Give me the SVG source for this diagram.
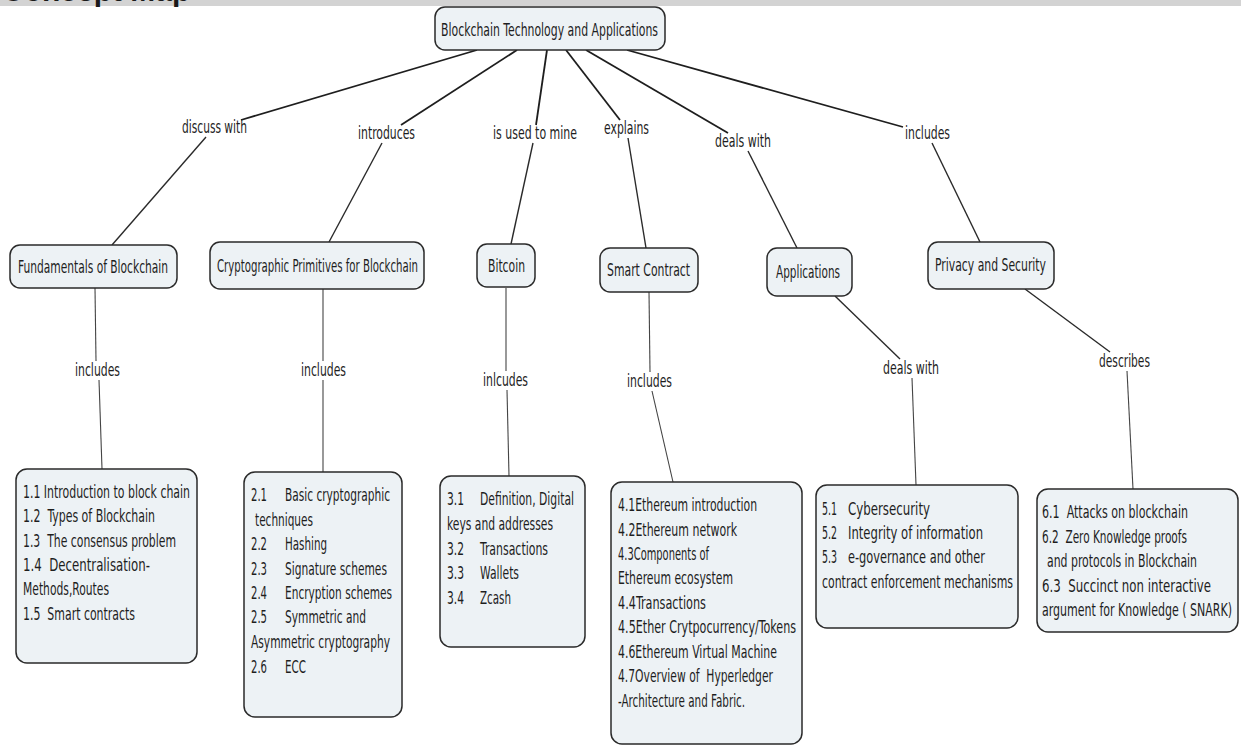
<svg xmlns="http://www.w3.org/2000/svg" width="1241" height="747" viewBox="0 0 1241 747">
<style>
.box{fill:#edf2f5;stroke:#2a2a2a;stroke-width:1.5}
.t{font-family:"DejaVu Sans Condensed","DejaVu Sans",sans-serif;font-size:18px;fill:#1e1e1e;white-space:pre}
.c1{stroke:#1e1e1e;stroke-width:1.8;fill:none}
.c2{stroke:#2a2a2a;stroke-width:1.4;fill:none}
.c3{stroke:#444;stroke-width:1.1;fill:none}
</style>
<rect x="0" y="0" width="1241" height="6" fill="#d3d3d3"/>
<text x="2" y="1" font-family="'Liberation Sans',Arial,sans-serif" font-weight="bold" font-size="30" fill="#1a1a1a">Concept Map</text>

<g id="connectors">
<line class="c1" x1="477" y1="50" x2="241" y2="120"/>
<line class="c1" x1="517" y1="50" x2="401" y2="125"/>
<line class="c1" x1="547" y1="50" x2="536" y2="125"/>
<line class="c1" x1="566" y1="50" x2="620" y2="120"/>
<line class="c1" x1="586" y1="50" x2="728" y2="133"/>
<line class="c1" x1="627" y1="50" x2="903" y2="127"/>
<line class="c2" x1="206" y1="137" x2="112" y2="245"/>
<line class="c2" x1="382" y1="143" x2="329" y2="242"/>
<line class="c2" x1="533" y1="143" x2="511" y2="244"/>
<line class="c2" x1="628" y1="138" x2="646" y2="248"/>
<line class="c2" x1="748" y1="151" x2="797" y2="248"/>
<line class="c2" x1="932" y1="143" x2="980" y2="242"/>
<line class="c3" x1="95" y1="288" x2="96" y2="361"/>
<line class="c3" x1="99" y1="380" x2="102" y2="469"/>
<line class="c3" x1="323" y1="289" x2="323" y2="361"/>
<line class="c3" x1="323" y1="380" x2="323" y2="472"/>
<line class="c3" x1="506" y1="288" x2="506" y2="371"/>
<line class="c3" x1="507" y1="390" x2="509" y2="476"/>
<line class="c3" x1="649" y1="292" x2="650" y2="372"/>
<line class="c3" x1="652" y1="391" x2="673" y2="482"/>
<line class="c2" x1="835" y1="296" x2="900" y2="359"/>
<line class="c3" x1="912" y1="378" x2="916" y2="485"/>
<line class="c2" x1="1025" y1="289" x2="1110" y2="352"/>
<line class="c3" x1="1127" y1="371" x2="1133" y2="489"/>
</g>

<g id="link-labels">
<text class="t" transform="matrix(0.67 0 0 1 182 133)" textLength="97" lengthAdjust="spacingAndGlyphs">discuss with</text>
<text class="t" transform="matrix(0.67 0 0 1 358 139)" textLength="85.1" lengthAdjust="spacingAndGlyphs">introduces</text>
<text class="t" transform="matrix(0.67 0 0 1 493 139)" textLength="125.4" lengthAdjust="spacingAndGlyphs">is used to mine</text>
<text class="t" transform="matrix(0.67 0 0 1 604 134)" textLength="67.2" lengthAdjust="spacingAndGlyphs">explains</text>
<text class="t" transform="matrix(0.67 0 0 1 715 147)" textLength="83.6" lengthAdjust="spacingAndGlyphs">deals with</text>
<text class="t" transform="matrix(0.67 0 0 1 905 139)" textLength="67.2" lengthAdjust="spacingAndGlyphs">includes</text>
<text class="t" transform="matrix(0.67 0 0 1 75 376)" textLength="67.2" lengthAdjust="spacingAndGlyphs">includes</text>
<text class="t" transform="matrix(0.67 0 0 1 301 376)" textLength="67.2" lengthAdjust="spacingAndGlyphs">includes</text>
<text class="t" transform="matrix(0.67 0 0 1 483 386)" textLength="67.2" lengthAdjust="spacingAndGlyphs">inlcudes</text>
<text class="t" transform="matrix(0.67 0 0 1 627 387)" textLength="67.2" lengthAdjust="spacingAndGlyphs">includes</text>
<text class="t" transform="matrix(0.67 0 0 1 883 374)" textLength="83.6" lengthAdjust="spacingAndGlyphs">deals with</text>
<text class="t" transform="matrix(0.67 0 0 1 1099 367)" textLength="76.1" lengthAdjust="spacingAndGlyphs">describes</text>
</g>

<g id="root">
<rect class="box" x="435" y="7" width="230" height="43" rx="10"/>
<text class="t" transform="matrix(0.67 0 0 1 441 36)" textLength="323.9" lengthAdjust="spacingAndGlyphs">Blockchain Technology and Applications</text>
</g>
<g id="fundamentals">
<rect class="box" x="10" y="245" width="167" height="43" rx="10"/>
<text class="t" transform="matrix(0.67 0 0 1 18 273)" textLength="223.9" lengthAdjust="spacingAndGlyphs">Fundamentals of Blockchain</text>
</g>
<g id="crypto">
<rect class="box" x="210" y="242" width="214" height="47" rx="10"/>
<text class="t" transform="matrix(0.67 0 0 1 217 272)" textLength="300" lengthAdjust="spacingAndGlyphs">Cryptographic Primitives for Blockchain</text>
</g>
<g id="bitcoin">
<rect class="box" x="477" y="244" width="58" height="43" rx="10"/>
<text class="t" transform="matrix(0.67 0 0 1 488 272)" textLength="55.2" lengthAdjust="spacingAndGlyphs">Bitcoin</text>
</g>
<g id="smart-contract">
<rect class="box" x="600" y="248" width="98" height="44" rx="10"/>
<text class="t" transform="matrix(0.67 0 0 1 607 276)" textLength="123.9" lengthAdjust="spacingAndGlyphs">Smart Contract</text>
</g>
<g id="applications">
<rect class="box" x="767" y="248" width="85" height="48" rx="10"/>
<text class="t" transform="matrix(0.67 0 0 1 776 278)" textLength="95.5" lengthAdjust="spacingAndGlyphs">Applications</text>
</g>
<g id="privacy">
<rect class="box" x="928" y="242" width="126" height="47" rx="10"/>
<text class="t" transform="matrix(0.67 0 0 1 935 271)" textLength="165.7" lengthAdjust="spacingAndGlyphs">Privacy and Security</text>
</g>

<g id="topics-1">
<rect class="box" x="16" y="469" width="181" height="194" rx="11"/>
<text class="t" transform="matrix(0.67 0 0 1 23 498)" textLength="249.3" lengthAdjust="spacingAndGlyphs">1.1 Introduction to block chain</text>
<text class="t" transform="matrix(0.67 0 0 1 23 522)" textLength="197" lengthAdjust="spacingAndGlyphs">1.2  Types of Blockchain</text>
<text class="t" transform="matrix(0.67 0 0 1 23 547)" textLength="228.4" lengthAdjust="spacingAndGlyphs">1.3  The consensus problem</text>
<text class="t" transform="matrix(0.67 0 0 1 23 571)" textLength="189.6" lengthAdjust="spacingAndGlyphs">1.4  Decentralisation-</text>
<text class="t" transform="matrix(0.67 0 0 1 23 595)" textLength="128.4" lengthAdjust="spacingAndGlyphs">Methods,Routes</text>
<text class="t" transform="matrix(0.67 0 0 1 23 620)" textLength="167.2" lengthAdjust="spacingAndGlyphs">1.5  Smart contracts</text>
</g>
<g id="topics-2">
<rect class="box" x="244" y="472" width="158" height="245" rx="11"/>
<text class="t" transform="matrix(0.67 0 0 1 251 501)" textLength="23.9" lengthAdjust="spacingAndGlyphs">2.1</text>
<text class="t" transform="matrix(0.67 0 0 1 285 501)" textLength="156.7" lengthAdjust="spacingAndGlyphs">Basic cryptographic</text>
<text class="t" transform="matrix(0.67 0 0 1 255 526)" textLength="86.6" lengthAdjust="spacingAndGlyphs">techniques</text>
<text class="t" transform="matrix(0.67 0 0 1 251 550)" textLength="23.9" lengthAdjust="spacingAndGlyphs">2.2</text>
<text class="t" transform="matrix(0.67 0 0 1 285 550)" textLength="62.7" lengthAdjust="spacingAndGlyphs">Hashing</text>
<text class="t" transform="matrix(0.67 0 0 1 251 575)" textLength="23.9" lengthAdjust="spacingAndGlyphs">2.3</text>
<text class="t" transform="matrix(0.67 0 0 1 285 575)" textLength="152.2" lengthAdjust="spacingAndGlyphs">Signature schemes</text>
<text class="t" transform="matrix(0.67 0 0 1 251 599)" textLength="23.9" lengthAdjust="spacingAndGlyphs">2.4</text>
<text class="t" transform="matrix(0.67 0 0 1 285 599)" textLength="159.7" lengthAdjust="spacingAndGlyphs">Encryption schemes</text>
<text class="t" transform="matrix(0.67 0 0 1 251 623)" textLength="23.9" lengthAdjust="spacingAndGlyphs">2.5</text>
<text class="t" transform="matrix(0.67 0 0 1 285 623)" textLength="120.9" lengthAdjust="spacingAndGlyphs">Symmetric and</text>
<text class="t" transform="matrix(0.67 0 0 1 251 648)" textLength="207.5" lengthAdjust="spacingAndGlyphs">Asymmetric cryptography</text>
<text class="t" transform="matrix(0.67 0 0 1 251 673)" textLength="23.9" lengthAdjust="spacingAndGlyphs">2.6</text>
<text class="t" transform="matrix(0.67 0 0 1 285 673)" textLength="31.3" lengthAdjust="spacingAndGlyphs">ECC</text>
</g>
<g id="topics-3">
<rect class="box" x="440" y="476" width="145" height="171" rx="11"/>
<text class="t" transform="matrix(0.67 0 0 1 447 505)" textLength="25.4" lengthAdjust="spacingAndGlyphs">3.1</text>
<text class="t" transform="matrix(0.67 0 0 1 480 505)" textLength="140.3" lengthAdjust="spacingAndGlyphs">Definition, Digital</text>
<text class="t" transform="matrix(0.67 0 0 1 447 530)" textLength="158.2" lengthAdjust="spacingAndGlyphs">keys and addresses</text>
<text class="t" transform="matrix(0.67 0 0 1 447 555)" textLength="25.4" lengthAdjust="spacingAndGlyphs">3.2</text>
<text class="t" transform="matrix(0.67 0 0 1 480 555)" textLength="101.5" lengthAdjust="spacingAndGlyphs">Transactions</text>
<text class="t" transform="matrix(0.67 0 0 1 447 579)" textLength="25.4" lengthAdjust="spacingAndGlyphs">3.3</text>
<text class="t" transform="matrix(0.67 0 0 1 480 579)" textLength="58.2" lengthAdjust="spacingAndGlyphs">Wallets</text>
<text class="t" transform="matrix(0.67 0 0 1 447 604)" textLength="25.4" lengthAdjust="spacingAndGlyphs">3.4</text>
<text class="t" transform="matrix(0.67 0 0 1 480 604)" textLength="46.3" lengthAdjust="spacingAndGlyphs">Zcash</text>
</g>
<g id="topics-4">
<rect class="box" x="611" y="482" width="191" height="262" rx="11"/>
<text class="t" transform="matrix(0.67 0 0 1 618 511)" textLength="207.5" lengthAdjust="spacingAndGlyphs">4.1Ethereum introduction</text>
<text class="t" transform="matrix(0.67 0 0 1 618 536)" textLength="177.6" lengthAdjust="spacingAndGlyphs">4.2Ethereum network</text>
<text class="t" transform="matrix(0.67 0 0 1 618 560)" textLength="135.8" lengthAdjust="spacingAndGlyphs">4.3Components of</text>
<text class="t" transform="matrix(0.67 0 0 1 618 584)" textLength="171.6" lengthAdjust="spacingAndGlyphs">Ethereum ecosystem</text>
<text class="t" transform="matrix(0.67 0 0 1 618 609)" textLength="131.3" lengthAdjust="spacingAndGlyphs">4.4Transactions</text>
<text class="t" transform="matrix(0.67 0 0 1 618 633)" textLength="265.7" lengthAdjust="spacingAndGlyphs">4.5Ether Crytpocurrency/Tokens</text>
<text class="t" transform="matrix(0.67 0 0 1 618 658)" textLength="237.3" lengthAdjust="spacingAndGlyphs">4.6Ethereum Virtual Machine</text>
<text class="t" transform="matrix(0.67 0 0 1 618 682)" textLength="231.3" lengthAdjust="spacingAndGlyphs">4.7Overview of  Hyperledger</text>
<text class="t" transform="matrix(0.67 0 0 1 618 707)" textLength="189.6" lengthAdjust="spacingAndGlyphs">-Architecture and Fabric.</text>
</g>
<g id="topics-5">
<rect class="box" x="816" y="485" width="202" height="143" rx="11"/>
<text class="t" transform="matrix(0.67 0 0 1 822 515)" textLength="22.4" lengthAdjust="spacingAndGlyphs">5.1</text>
<text class="t" transform="matrix(0.67 0 0 1 848 515)" textLength="122.4" lengthAdjust="spacingAndGlyphs">Cybersecurity</text>
<text class="t" transform="matrix(0.67 0 0 1 822 539)" textLength="22.4" lengthAdjust="spacingAndGlyphs">5.2</text>
<text class="t" transform="matrix(0.67 0 0 1 848 539)" textLength="201.5" lengthAdjust="spacingAndGlyphs">Integrity of information</text>
<text class="t" transform="matrix(0.67 0 0 1 822 563)" textLength="22.4" lengthAdjust="spacingAndGlyphs">5.3</text>
<text class="t" transform="matrix(0.67 0 0 1 848 563)" textLength="204.5" lengthAdjust="spacingAndGlyphs">e-governance and other</text>
<text class="t" transform="matrix(0.67 0 0 1 822 588)" textLength="285.1" lengthAdjust="spacingAndGlyphs">contract enforcement mechanisms</text>
</g>
<g id="topics-6">
<rect class="box" x="1037" y="489" width="201" height="143" rx="11"/>
<text class="t" transform="matrix(0.67 0 0 1 1042 518)" textLength="217.9" lengthAdjust="spacingAndGlyphs">6.1  Attacks on blockchain</text>
<text class="t" transform="matrix(0.67 0 0 1 1042 543)" textLength="216.4" lengthAdjust="spacingAndGlyphs">6.2  Zero Knowledge proofs</text>
<text class="t" transform="matrix(0.67 0 0 1 1047 567)" textLength="223.9" lengthAdjust="spacingAndGlyphs">and protocols in Blockchain</text>
<text class="t" transform="matrix(0.67 0 0 1 1042 592)" textLength="252.2" lengthAdjust="spacingAndGlyphs">6.3  Succinct non interactive</text>
<text class="t" transform="matrix(0.67 0 0 1 1042 616)" textLength="283.6" lengthAdjust="spacingAndGlyphs">argument for Knowledge ( SNARK)</text>
</g>
</svg>
